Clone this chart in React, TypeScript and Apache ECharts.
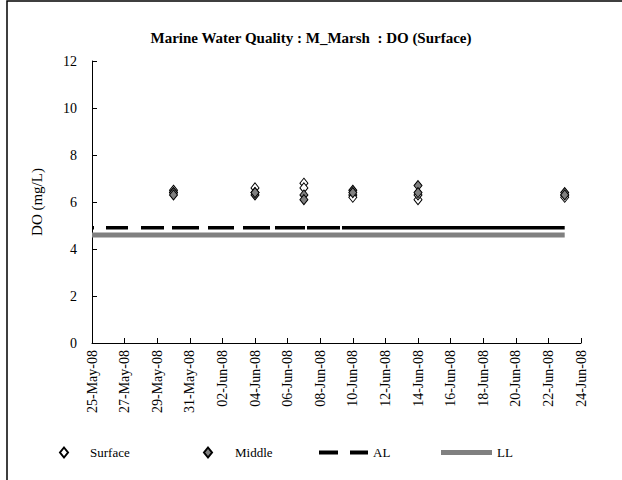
import React, { useEffect, useRef } from "react";
import * as echarts from "echarts";

const TITLE = "Marine Water Quality : M_Marsh  : DO (Surface)";
const Y_NAME = "DO (mg/L)";
const X_MIN_DATE = "2008-05-25";
const X_MAX_DATE = "2008-06-24";
const Y_TICKS = [0, 2, 4, 6, 8, 10, 12];

const surfaceDates = [
  "2008-05-30", "2008-05-30",
  "2008-06-04", "2008-06-04",
  "2008-06-07", "2008-06-07",
  "2008-06-10", "2008-06-10",
  "2008-06-14", "2008-06-14",
  "2008-06-23", "2008-06-23",
];
const surfaceValues = [6.5, 6.4, 6.6, 6.4, 6.8, 6.6, 6.3, 6.2, 6.1, 6.3, 6.3, 6.2];

const middleDates = [
  "2008-05-30", "2008-05-30",
  "2008-06-04", "2008-06-04",
  "2008-06-07", "2008-06-07",
  "2008-06-10", "2008-06-10",
  "2008-06-14", "2008-06-14",
  "2008-06-23", "2008-06-23",
];
const middleValues = [6.4, 6.3, 6.3, 6.4, 6.3, 6.1, 6.5, 6.4, 6.7, 6.4, 6.4, 6.3];

const limitDates = ["2008-05-25", "2008-06-23"];
const alValues = [4.9, 4.9];
const llValues = [4.6, 4.6];

const MONTHS = ["Jan", "Feb", "Mar", "Apr", "May", "Jun", "Jul", "Aug", "Sep", "Oct", "Nov", "Dec"];
const DAY = 86400000;
const toDay = (s: string) => {
  const [y, m, d] = s.split("-").map(Number);
  return Date.UTC(y, m - 1, d) / DAY;
};
const fmt = (v: number) => {
  const dt = new Date(Math.round(v) * DAY);
  const dd = String(dt.getUTCDate()).padStart(2, "0");
  const yy = String(dt.getUTCFullYear() % 100).padStart(2, "0");
  return `${dd}-${MONTHS[dt.getUTCMonth()]}-${yy}`;
};

const FONT = "Liberation Serif";

export default function App() {
  const ref = useRef<HTMLDivElement>(null);
  useEffect(() => {
    if (!ref.current) return;
    const chart = echarts.init(ref.current, undefined, { renderer: "svg" });
    const pair = (dates: string[], vals: number[]) => dates.map((d, i) => [toDay(d), vals[i]]);
    const legendBase = {
      top: 441,
      orient: "horizontal" as const,
      textStyle: { fontFamily: FONT, fontSize: 13, color: "#000" },
      selectedMode: false as const,
    };
    chart.setOption({
      animation: false,
      backgroundColor: "#fff",
      textStyle: { fontFamily: FONT },
      title: {
        text: TITLE,
        left: "center",
        top: 25,
        textStyle: { fontFamily: FONT, fontSize: 15, fontWeight: "bold", color: "#000" },
      },
      graphic: [
        {
          type: "rect",
          shape: { x: 7, y: 1, width: 700, height: 700 },
          style: { fill: "none", stroke: "#000", lineWidth: 1.5 },
          silent: true,
        },
      ],
      grid: { left: 92, right: 41, top: 61, bottom: 137 },
      xAxis: {
        type: "value",
        min: toDay(X_MIN_DATE),
        max: toDay(X_MAX_DATE),
        interval: 2,
        splitLine: { show: false },
        axisLine: { lineStyle: { color: "#000", width: 1 } },
        axisTick: { inside: true, length: 5, lineStyle: { color: "#000" } },
        axisLabel: {
          rotate: 90,
          margin: 7,
          fontFamily: FONT,
          fontSize: 14,
          color: "#000",
          showMinLabel: true,
          showMaxLabel: true,
          formatter: (v: number) => fmt(v),
        },
      },
      yAxis: {
        type: "value",
        min: Y_TICKS[0],
        max: Y_TICKS[Y_TICKS.length - 1],
        interval: Y_TICKS[1] - Y_TICKS[0],
        name: Y_NAME,
        nameLocation: "middle",
        nameRotate: 90,
        nameGap: 48,
        nameTextStyle: { fontFamily: FONT, fontSize: 15, color: "#000" },
        splitLine: { show: false },
        axisLine: { show: true, lineStyle: { color: "#000", width: 1 } },
        axisTick: { inside: true, length: 5, lineStyle: { color: "#000" } },
        axisLabel: { margin: 15, fontFamily: FONT, fontSize: 14, color: "#000" },
      },
      legend: [
        {
          ...legendBase,
          left: 54,
          itemWidth: 8,
          itemHeight: 10,
          textStyle: { ...legendBase.textStyle, padding: [0, 0, 0, 17] },
          data: [{ name: "Surface", icon: "diamond" }],
        },
        {
          ...legendBase,
          left: 198,
          itemWidth: 8,
          itemHeight: 10,
          textStyle: { ...legendBase.textStyle, padding: [0, 0, 0, 18] },
          data: [{ name: "Middle", icon: "diamond" }],
        },
        {
          ...legendBase,
          left: 314,
          itemWidth: 49,
          itemHeight: 4,
          data: [
            {
              name: "AL",
              icon: "path://M0 0H19V4H0Z M31 0H49V4H31Z",
              itemStyle: { color: "#000", borderWidth: 0 },
            },
          ],
        },
        {
          ...legendBase,
          left: 436,
          itemWidth: 51,
          itemHeight: 5,
          data: [{ name: "LL", icon: "rect", itemStyle: { color: "#808080", borderWidth: 0 } }],
        },
      ],
      series: [
        {
          name: "LL",
          type: "line",
          data: pair(limitDates, llValues),
          symbol: "none",
          color: "#808080",
          lineStyle: { color: "#808080", width: 5 },
          z: 1,
        },
        {
          name: "AL",
          type: "line",
          data: pair(limitDates, alValues),
          symbol: "none",
          color: "#000",
          lineStyle: {
            color: "#000",
            width: 3.5,
            type: [2, 12, 22, 13, 23, 8, 27, 9, 26, 9, 27, 5, 30, 2, 33, 2, 400, 0],
          },
          z: 2,
        },
        {
          name: "Surface",
          type: "scatter",
          data: pair(surfaceDates, surfaceValues),
          symbol: "diamond",
          symbolSize: [8, 10],
          itemStyle: { color: "#fff", borderColor: "#000", borderWidth: 1, opacity: 1 },
          z: 3,
        },
        {
          name: "Middle",
          type: "scatter",
          data: pair(middleDates, middleValues),
          symbol: "diamond",
          symbolSize: [8, 10],
          itemStyle: { color: "#808080", borderColor: "#000", borderWidth: 1, opacity: 1 },
          z: 4,
        },
      ],
    });
    return () => chart.dispose();
  }, []);
  return (
    <div
      ref={ref}
      style={{ position: "absolute", left: 0, top: 0, width: 622, height: 480, background: "#fff" }}
    />
  );
}
